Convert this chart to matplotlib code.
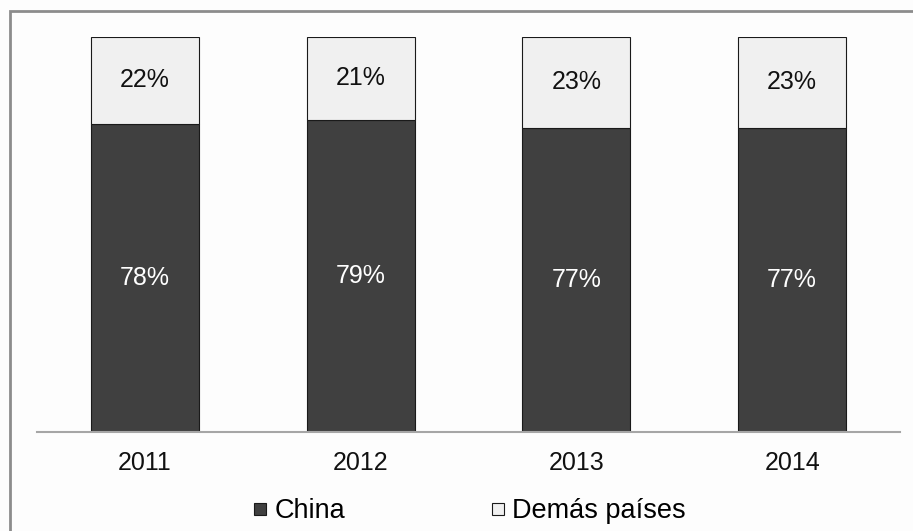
import matplotlib
matplotlib.use("Agg")
import matplotlib.pyplot as plt
from matplotlib.patches import Rectangle
from matplotlib.lines import Line2D

years = ["2011", "2012", "2013", "2014"]
china = [78, 79, 77, 77]
otros = [22, 21, 23, 23]
series_names = ["China", "Demás países"]

W, H = 913, 531
fig = plt.figure(figsize=(W / 100, H / 100), dpi=100)
fig.patch.set_facecolor("#fdfdfd")
plt.rcParams["font.family"] = ["Liberation Sans", "DejaVu Sans"]

ax = fig.add_axes([37 / W, (H - 432) / H, (900 - 37) / W, (432 - 37) / H])
ax.set_facecolor("#fdfdfd")
x = list(range(len(years)))
b1 = ax.bar(x, china, width=0.5, color="#404040", edgecolor="#1a1a1a", linewidth=0.8)
b2 = ax.bar(x, otros, width=0.5, bottom=china, color="#f0f0f0", edgecolor="#1a1a1a", linewidth=0.8)

for xi, c, o in zip(x, china, otros):
    ax.text(xi, c / 2, f"{c}%", ha="center", va="center", color="white", fontsize=18)
    ax.text(xi, c + o / 2, f"{o}%", ha="center", va="center", color="#111111", fontsize=18)

ax.set_xlim(-0.5, len(years) - 0.5)
ax.set_ylim(0, 100)
ax.set_yticks([])
ax.set_xticks(x)
ax.set_xticklabels(years, fontsize=18, color="#111111")
ax.tick_params(axis="x", length=0, pad=14)
for s in ["top", "right", "left"]:
    ax.spines[s].set_visible(False)
ax.spines["bottom"].set_color("#a6a6a6")
ax.spines["bottom"].set_linewidth(1.5)

handles = [Line2D([], [], linestyle="none", marker="s", markersize=9,
                  markerfacecolor="#404040", markeredgecolor="#1a1a1a", markeredgewidth=0.8),
           Line2D([], [], linestyle="none", marker="s", markersize=9,
                  markerfacecolor="#f0f0f0", markeredgecolor="#1a1a1a", markeredgewidth=0.8)]
fig.legend(handles, series_names, loc="center", bbox_to_anchor=(470 / W, (H - 511) / H),
           ncol=2, frameon=False, fontsize=19.5, handlelength=0.45,
           handletextpad=0.3, columnspacing=5.4, borderaxespad=0)

fig.add_artist(Rectangle((10 / W, -0.1), 1.2, (H - 11) / H + 0.1, transform=fig.transFigure,
                         fill=False, edgecolor="#8c8c8c", linewidth=2))

fig.savefig("out.png", dpi=100, facecolor=fig.get_facecolor())
